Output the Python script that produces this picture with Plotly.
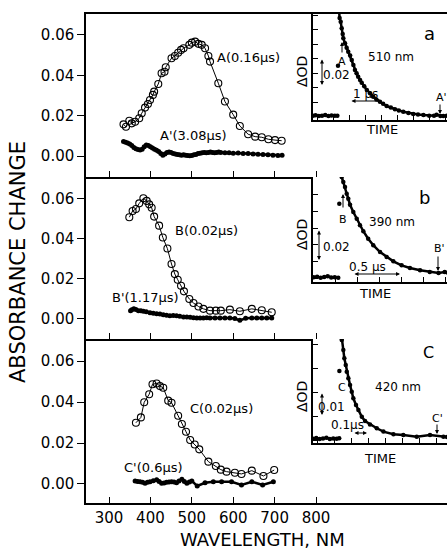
import plotly.graph_objects as go

W, H = 447, 550
FONT = "DejaVu Sans"


def px(x):
    return x / W


def py(y):
    return 1 - y / H


# ---- spectra (wavelength nm, absorbance change) ----
a_wl = [335, 341, 349, 355, 363, 373, 379, 387, 394, 399, 406, 409, 419, 427, 434, 437,
        451, 459, 467, 474, 480, 494, 500, 508, 516, 524, 532, 540, 544, 564, 580, 600,
        616, 636, 653, 669, 685, 701, 717]
a_abs = [0.0157, 0.0145, 0.0175, 0.0162, 0.0170, 0.0187, 0.0212, 0.0240, 0.0258, 0.0278,
         0.0303, 0.0319, 0.0357, 0.0410, 0.0418, 0.0440, 0.0485, 0.0496, 0.0512, 0.0526,
         0.0534, 0.0551, 0.0562, 0.0567, 0.0556, 0.0551, 0.0534, 0.0496, 0.0468, 0.0361,
         0.0270, 0.0205, 0.0149, 0.0108, 0.0096, 0.0093, 0.0083, 0.0079, 0.0076]

a2_wl = [335, 340, 345, 350, 355, 360, 365, 370, 375, 380, 385, 390, 395, 400, 405, 410,
         415, 420, 425, 430, 435, 440, 445, 450, 455, 460, 465, 470, 475, 480, 485, 490,
         495, 500, 505, 510, 515, 520, 525, 530, 535, 540, 545, 550, 555, 560, 565, 570,
         580, 590, 600, 612, 624, 636, 648, 660, 672, 684, 696, 708, 718]
a2_abs = [0.0072, 0.0068, 0.0064, 0.0060, 0.0052, 0.0042, 0.0036, 0.0032, 0.0030, 0.0034,
          0.0046, 0.0055, 0.0052, 0.0046, 0.0040, 0.0034, 0.0028, 0.0022, 0.0012, 0.0004,
          0.0010, 0.0018, 0.0020, 0.0017, 0.0012, 0.0010, 0.0008, 0.0006, 0.0004, 0.0006,
          0.0004, 0.0002, 0.0001, 0.0003, 0.0006, 0.0008, 0.0012, 0.0014, 0.0016, 0.0018,
          0.0016, 0.0018, 0.0020, 0.0018, 0.0016, 0.0018, 0.0020, 0.0018, 0.0016, 0.0016,
          0.0014, 0.0015, 0.0012, 0.0013, 0.0010, 0.0009, 0.0008, 0.0006, 0.0004, 0.0002,
          0.0004]

b_wl = [349, 357, 365, 373, 383, 391, 397, 403, 409, 421, 430, 441, 451, 459, 466, 474,
        481, 494, 504, 516, 528, 544, 558, 570, 592, 616, 645, 669, 693]
b_abs = [0.0506, 0.0537, 0.0547, 0.0575, 0.0600, 0.0587, 0.0570, 0.0553, 0.0509, 0.0464,
         0.0405, 0.0350, 0.0273, 0.0223, 0.0195, 0.0165, 0.0137, 0.0099, 0.0079, 0.0062,
         0.0050, 0.0041, 0.0041, 0.0041, 0.0046, 0.0038, 0.0050, 0.0043, 0.0033]

b2_wl = [352, 355, 360, 365, 371, 377, 383, 390, 399, 407, 415, 423, 431, 439, 447, 455,
         463, 471, 480, 488, 496, 504, 512, 520, 528, 536, 544, 556, 568, 580, 592, 604,
         616, 630, 645, 657, 669, 681, 693]
b2_abs = [0.0041, 0.0045, 0.0051, 0.0047, 0.0041, 0.0040, 0.0038, 0.0036, 0.0030, 0.0028,
          0.0026, 0.0024, 0.0021, 0.0018, 0.0016, 0.0017, 0.0016, 0.0013, 0.0010, 0.0009,
          0.0008, 0.0006, 0.0005, 0.0004, 0.0005, 0.0006, 0.0005, 0.0004, 0.0005, 0.0004,
          0.0005, 0.0002, -0.0007, 0.0003, 0.0005, 0.0004, 0.0005, 0.0005, 0.0005]

c_wl = [365, 377, 385, 397, 405, 415, 423, 431, 443, 451, 467, 476, 486, 496, 507, 518,
        540, 558, 570, 584, 604, 620, 645, 673, 699]
c_abs = [0.0299, 0.0325, 0.0399, 0.0438, 0.0487, 0.0491, 0.0478, 0.0470, 0.0407, 0.0397,
         0.0333, 0.0293, 0.0255, 0.0215, 0.0193, 0.0169, 0.0109, 0.0088, 0.0070, 0.0060,
         0.0055, 0.0049, 0.0065, 0.0039, 0.0068]

c2_wl = [363, 369, 375, 381, 387, 393, 399, 407, 415, 421, 427, 433, 439, 445, 451, 457,
         463, 469, 476, 482, 488, 494, 500, 513, 532, 552, 572, 596, 620, 645, 671, 697]
c2_abs = [0.0015, 0.0012, 0.0011, 0.0008, 0.0003, 0.0008, 0.0011, 0.0016, 0.0020, 0.0012,
          0.0003, 0.0005, 0.0008, 0.0010, 0.0011, 0.0009, 0.0006, 0.0014, 0.0023, 0.0012,
          0.0003, 0.0009, 0.0015, -0.0010, 0.0006, 0.0011, 0.0011, 0.0011, -0.0005, 0.0011,
          -0.0005, 0.0011]

# ---- inset kinetic traces (time us, delta OD) ----
ka_base_t = [-0.78, -0.7, -0.6, -0.5, -0.4, -0.3, -0.2, -0.1, -0.02]
ka_base_v = [0.0005, 0.0008, 0.0003, 0.0006, 0.0010, 0.0004, 0.0007, 0.0005, 0.0006]
ka_t = [0.03, 0.05, 0.084, 0.116, 0.147, 0.166, 0.22, 0.27, 0.32, 0.38, 0.43, 0.48, 0.53,
        0.58, 0.63, 0.69, 0.74, 0.82, 0.9, 1.0, 1.1, 1.2, 1.31, 1.41, 1.52, 1.65, 1.78, 1.9,
        2.04, 2.2, 2.35, 2.5, 2.67, 2.85, 3.0, 3.08, 3.2, 3.29, 3.4]
ka_v = [0.074, 0.068, 0.0654, 0.0609, 0.0569, 0.054, 0.0505, 0.0475, 0.0447, 0.042, 0.039,
        0.0355, 0.0321, 0.0298, 0.0275, 0.0252, 0.0233, 0.0208, 0.0183, 0.016, 0.0137,
        0.0118, 0.0102, 0.0088, 0.0072, 0.0062, 0.005, 0.0042, 0.0033, 0.0025, 0.0017,
        0.0014, 0.001, 0.0006, 0.0005, 0.0012, 0.0004, 0.0003, 0.0005]
ka_stray_t = [0.0]
ka_stray_v = [0.035]

kb_base_t = [-0.3, -0.26, -0.22, -0.18, -0.14, -0.1, -0.06, -0.02]
kb_base_v = [0.0008, 0.0012, 0.0006, 0.0010, 0.0014, 0.0007, 0.0009, 0.0006]
kb_t = [0.005, 0.019, 0.0375, 0.057, 0.076, 0.094, 0.114, 0.151, 0.19, 0.227, 0.265, 0.32,
        0.378, 0.455, 0.53, 0.606, 0.70, 0.795, 0.91, 1.02, 1.12, 1.19, 1.22]
kb_v = [0.066, 0.0602, 0.0572, 0.0543, 0.0503, 0.0474, 0.0438, 0.0395, 0.0355, 0.0316,
        0.0281, 0.0237, 0.0198, 0.0158, 0.0128, 0.0103, 0.0079, 0.0063, 0.005, 0.004,
        0.0034, 0.004, 0.0036]
kb_stray_t = [-0.008]
kb_stray_v = [0.0444]

kc_base_t = [-0.159, -0.14, -0.12, -0.1, -0.08, -0.06, -0.04, -0.02, -0.005]
kc_base_v = [0.0005, 0.0008, 0.0004, 0.0006, 0.0009, 0.0004, 0.0006, 0.0005, 0.0007]
kc_t = [0.004, 0.010, 0.0194, 0.0253, 0.0335, 0.0394, 0.0488, 0.0588, 0.0688, 0.0782, 0.094,
        0.108, 0.128, 0.147, 0.176, 0.216, 0.255, 0.314, 0.372, 0.451, 0.529, 0.608, 0.629]
kc_v = [0.046, 0.0417, 0.0375, 0.0341, 0.0313, 0.0285, 0.0257, 0.0229, 0.0201, 0.0174,
        0.0146, 0.0125, 0.0097, 0.0079, 0.0065, 0.0049, 0.0035, 0.0024, 0.0021, 0.0014,
        0.0021, 0.0014, 0.0012]
kc_stray_t = [-0.004]
kc_stray_v = [0.0288]

wl_ticks = [300, 400, 500, 600, 700, 800]
abs_ticks = [0.0, 0.02, 0.04, 0.06]
abs_labels = ["0.00", "0.02", "0.04", "0.06"]

fig = go.Figure()


def open_trace(x, y, xa, ya):
    fig.add_trace(go.Scatter(x=x, y=y, xaxis=xa, yaxis=ya, mode="lines+markers",
                             line=dict(color="black", width=1),
                             marker=dict(symbol="circle-open", size=7, color="black",
                                         line=dict(width=1.1, color="black"))))


def filled_trace(x, y, xa, ya):
    fig.add_trace(go.Scatter(x=x, y=y, xaxis=xa, yaxis=ya, mode="lines+markers",
                             line=dict(color="black", width=2.5),
                             marker=dict(symbol="circle", size=5, color="black")))


def kin_trace(x, y, xa, ya, mode="lines+markers"):
    fig.add_trace(go.Scatter(x=x, y=y, xaxis=xa, yaxis=ya, mode=mode,
                             line=dict(color="black", width=2.5),
                             marker=dict(symbol="circle", size=4.5, color="black")))


open_trace(a_wl, a_abs, "x", "y")
filled_trace(a2_wl, a2_abs, "x", "y")
open_trace(b_wl, b_abs, "x2", "y2")
filled_trace(b2_wl, b2_abs, "x2", "y2")
open_trace(c_wl, c_abs, "x3", "y3")
filled_trace(c2_wl, c2_abs, "x3", "y3")

kin_trace(ka_base_t, ka_base_v, "x4", "y4")
kin_trace(ka_t, ka_v, "x4", "y4")
kin_trace(ka_stray_t, ka_stray_v, "x4", "y4", mode="markers")
kin_trace(kb_base_t, kb_base_v, "x5", "y5")
kin_trace(kb_t, kb_v, "x5", "y5")
kin_trace(kb_stray_t, kb_stray_v, "x5", "y5", mode="markers")
kin_trace(kc_base_t, kc_base_v, "x6", "y6")
kin_trace(kc_t, kc_v, "x6", "y6")
kin_trace(kc_stray_t, kc_stray_v, "x6", "y6", mode="markers")

axis_common = dict(showgrid=False, zeroline=False, showline=True, linecolor="black",
                   linewidth=1.5, tickcolor="black", tickwidth=1.2)

panels = [(14, 177, [-0.0104, 0.0704]), (177, 339, [-0.0100, 0.0706]),
          (339, 503, [-0.0093, 0.0708])]
layout = {}
for i, (top, bot, yr) in enumerate(panels):
    n = "" if i == 0 else str(i + 1)
    layout["xaxis" + n] = dict(axis_common, domain=[px(86), 1], range=[244.4, 1116.4],
                               anchor="y" + n, tickvals=wl_ticks, ticks="inside", ticklen=6,
                               showticklabels=(i == 2), mirror=(i == 0),
                               tickfont=dict(family=FONT, size=15, color="black"))
    layout["yaxis" + n] = dict(axis_common, domain=[py(bot), py(top)], range=yr,
                               anchor="x" + n, tickvals=abs_ticks, ticktext=abs_labels,
                               ticks="outside", ticklen=7,
                               tickfont=dict(family=FONT, size=15, color="black"))

insets = [(14, 120, [-0.781, 3.406], [-0.0024, 0.0707], 0.35, 0.5),
          (177, 282, [-0.307, 1.216], [-0.00195, 0.0602], 0.2, 0.25),
          (339, 443, [-0.159, 0.629], [-0.00125, 0.0421], 0.065, 0.1)]
for i, (top, bot, xr, yr, t0, dt) in enumerate(insets):
    n = str(i + 4)
    layout["xaxis" + n] = dict(axis_common, domain=[px(313), 1], range=xr, anchor="y" + n,
                               tick0=t0, dtick=dt, ticks="inside", ticklen=5,
                               showticklabels=False)
    layout["yaxis" + n] = dict(axis_common, domain=[py(bot), py(top)], range=yr,
                               anchor="x" + n, dtick=0.01, tick0=0, ticks="inside",
                               ticklen=5, showticklabels=False)

ann = []


def text(x, y, s, size=13, angle=0):
    ann.append(dict(x=px(x), y=py(y), xref="paper", yref="paper", text=s, showarrow=False,
                    textangle=angle, font=dict(family=FONT, size=size, color="black"),
                    xanchor="center", yanchor="middle"))


def arrow(x0, y0, x1, y1, both=False):
    ann.append(dict(x=px(x1), y=py(y1), xref="paper", yref="paper", text="",
                    showarrow=True, ax=x0 - x1, ay=y0 - y1, axref="pixel", ayref="pixel",
                    arrowhead=2, arrowsize=0.8, arrowwidth=1, arrowcolor="black",
                    arrowside="end+start" if both else "end"))


text(18, 262, "ABSORBANCE CHANGE", size=21, angle=-90)
text(262, 539, "WAVELENGTH, NM", size=18)

text(248, 57, "A(0.16μs)")
text(193, 135, "A'(3.08μs)")
text(206, 230, "B(0.02μs)")
text(145, 297, "B'(1.17μs)")
text(221, 408, "C(0.02μs)")
text(153, 467, "C'(0.6μs)")

# inset a
text(429, 33, "a", size=18)
text(391, 57, "510 nm", size=12)
text(302, 72, "ΔOD", size=14, angle=-90)
text(336, 75, "0.02", size=12)
arrow(322, 58, 322, 85, both=True)
text(342, 61, "A", size=11)
arrow(342, 54, 342, 42)
text(365, 94, "1 μs", size=12)
arrow(350, 101, 382, 101, both=True)
text(441, 97, "A'", size=11)
arrow(440, 103, 440, 114)
text(382, 130, "TIME", size=13)

# inset b
text(424, 197, "b", size=18)
text(392, 222, "390 nm", size=12)
text(302, 235, "ΔOD", size=14, angle=-90)
text(336, 247, "0.02", size=12)
arrow(319, 229, 319, 260, both=True)
text(343, 219, "B", size=11)
arrow(343, 209, 343, 194)
text(367, 267, "0.5 μs", size=12)
arrow(353, 274, 400, 274, both=True)
text(439, 249, "B'", size=11)
arrow(438, 255, 438, 271)
text(375, 293, "TIME", size=13)

# inset c
text(428, 352, "C", size=16)
text(398, 387, "420 nm", size=12)
text(302, 397, "ΔOD", size=14, angle=-90)
text(331, 407, "0.01", size=12)
arrow(322, 392, 322, 415, both=True)
text(342, 387, "C", size=11)
text(347, 425, "0.1μs", size=12)
arrow(353, 433, 367, 433, both=True)
text(437, 418, "C'", size=11)
arrow(437, 423, 437, 434)
text(380, 458, "TIME", size=13)

fig.update_layout(width=W, height=H, margin=dict(l=0, r=0, t=0, b=0),
                  paper_bgcolor="white", plot_bgcolor="white", showlegend=False,
                  annotations=ann, **layout)

fig.write_html("out.html", config={"displayModeBar": False},
               post_script="document.body.style.margin='0';document.body.style.overflow='hidden';")
